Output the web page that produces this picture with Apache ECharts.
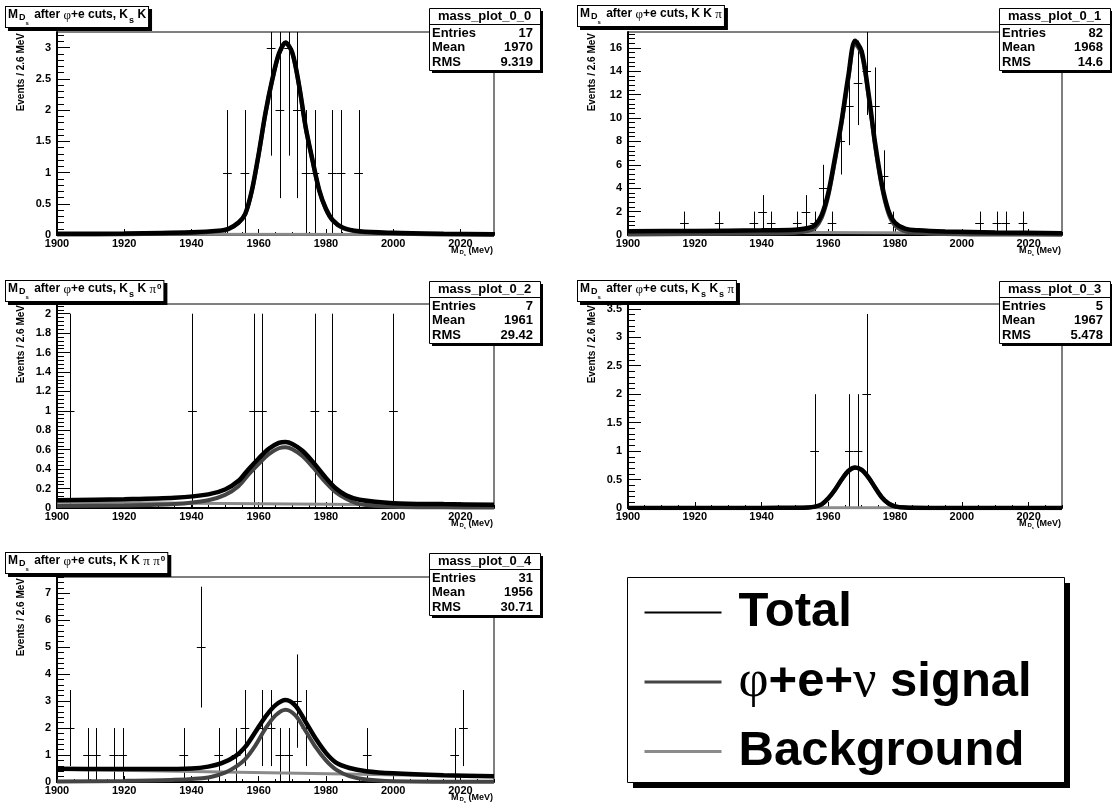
<!DOCTYPE html>
<html>
<head>
<meta charset="utf-8">
<script src="https://cdn.jsdelivr.net/npm/echarts@6/dist/echarts.min.js"></script>
<style>
html,body{margin:0;padding:0;background:#fff;}
#chart{width:1112px;height:803px;}
</style>
</head>
<body>
<div id="chart"></div>
<script>
// ---------------- DATA ----------------
const binWidth = 2.6;
const xTickLabels = [1900, 1920, 1940, 1960, 1980, 2000, 2020];

const p1Centers = [1950.7, 1955.9, 1963.7, 1966.3, 1968.9, 1971.5, 1974.1, 1976.7, 1981.9, 1984.5, 1989.7];
const p1Counts  = [1, 1, 3, 2, 3, 2, 1, 1, 1, 1, 1];
const p1Errors  = [1, 1, 1.73, 1.41, 1.73, 1.41, 1, 1, 1, 1, 1];

const p2Centers = [1916.9, 1927.3, 1937.7, 1940.3, 1942.9, 1950.7, 1953.3, 1955.9, 1958.5, 1961.1, 1963.7, 1966.3, 1968.9, 1971.5, 1974.1, 1976.7, 1979.3, 2005.3, 2010.5, 2013.1, 2018.3];
const p2Counts  = [1, 1, 1, 2, 1, 1, 2, 1, 4, 1, 8, 11, 13, 14, 11, 5, 1, 1, 1, 1, 1];
const p2Errors  = [1, 1, 1, 1.41, 1, 1, 1.41, 1, 2, 1, 2.83, 3.32, 3.61, 3.74, 3.32, 2.24, 1, 1, 1, 1, 1];

const p3Centers = [1903.9, 1940.3, 1958.5, 1961.1, 1976.7, 1981.9, 2000.1];
const p3Counts  = [1, 1, 1, 1, 1, 1, 1];
const p3Errors  = [1, 1, 1, 1, 1, 1, 1];

const p4Centers = [1955.9, 1966.3, 1968.9, 1971.5];
const p4Counts  = [1, 1, 1, 2];
const p4Errors  = [1, 1, 1, 1.41];

const p5Centers = [1903.9, 1909.1, 1911.7, 1916.9, 1919.5, 1937.7, 1942.9, 1948.1, 1953.3, 1955.9, 1961.1, 1963.7, 1966.3, 1968.9, 1971.5, 1974.1, 1992.3, 2018.3, 2020.9];
const p5Counts  = [2, 1, 1, 1, 1, 1, 5, 1, 1, 2, 2, 2, 1, 1, 3, 2, 1, 1, 2];
const p5Errors  = [1.41, 1, 1, 1, 1, 1, 2.24, 1, 1, 1.41, 1.41, 1.41, 1, 1, 1.73, 1.41, 1, 1, 1.41];

// fitted curves: [mass, events]
const p1Total  = [[1900,0.02],[1920,0.025],[1940,0.045],[1948,0.07],[1951,0.1],[1954,0.2],[1956,0.34],[1958,0.72],[1960,1.3],[1962,1.95],[1964,2.48],[1966,2.9],[1968,3.08],[1970,2.92],[1972,2.4],[1974,1.72],[1976,1.2],[1978,0.72],[1980,0.42],[1982,0.24],[1985,0.12],[1990,0.06],[2000,0.035],[2015,0.02],[2030,0.012]];
const p1Signal = [[1900,0.008],[1920,0.013],[1940,0.034],[1948,0.06],[1951,0.09],[1954,0.19],[1956,0.33],[1958,0.71],[1960,1.29],[1962,1.94],[1964,2.47],[1966,2.89],[1968,3.07],[1970,2.91],[1972,2.39],[1974,1.71],[1976,1.19],[1978,0.71],[1980,0.41],[1982,0.23],[1985,0.11],[1990,0.05],[2000,0.025],[2015,0.01],[2030,0.004]];
const p1Bg     = [[1900,0.012],[2030,0.008]];

const p2Total  = [[1900,0.32],[1920,0.35],[1940,0.4],[1950,0.45],[1954,0.6],[1956,0.85],[1958,1.7],[1960,3.6],[1962,6.6],[1964,9.8],[1966,13.6],[1968,16.6],[1970,15.7],[1972,12.2],[1974,7.9],[1976,4.4],[1978,2.1],[1980,1.05],[1983,0.55],[1987,0.4],[1995,0.3],[2010,0.22],[2030,0.15]];
const p2Signal = [[1900,0.04],[1920,0.08],[1940,0.13],[1950,0.19],[1954,0.35],[1956,0.6],[1958,1.45],[1960,3.35],[1962,6.35],[1964,9.55],[1966,13.35],[1968,16.35],[1970,15.45],[1972,11.95],[1974,7.65],[1976,4.15],[1978,1.85],[1980,0.8],[1983,0.31],[1987,0.17],[1995,0.08],[2010,0.04],[2030,0.03]];
const p2Bg     = [[1900,0.28],[2030,0.12]];

const p3Total  = [[1900,0.08],[1920,0.09],[1935,0.105],[1945,0.14],[1950,0.19],[1954,0.28],[1957,0.4],[1960,0.51],[1963,0.61],[1966,0.67],[1968,0.68],[1970,0.66],[1973,0.59],[1976,0.48],[1980,0.31],[1983,0.2],[1986,0.13],[1990,0.085],[2000,0.05],[2015,0.04],[2030,0.033]];
const p3Signal = [[1900,0.02],[1920,0.025],[1935,0.04],[1945,0.08],[1950,0.135],[1954,0.225],[1957,0.345],[1960,0.455],[1963,0.555],[1966,0.615],[1968,0.625],[1970,0.605],[1973,0.535],[1976,0.425],[1980,0.26],[1983,0.16],[1986,0.095],[1990,0.04],[2000,0.012],[2015,0.007],[2030,0.006]];
const p3Bg     = [[1900,0.06],[2030,0.025]];

const p4Total  = [[1900,0.001],[1940,0.002],[1950,0.004],[1954,0.01],[1956,0.025],[1958,0.065],[1960,0.17],[1962,0.32],[1964,0.5],[1966,0.65],[1968,0.71],[1970,0.67],[1972,0.54],[1974,0.36],[1976,0.19],[1978,0.08],[1980,0.028],[1983,0.008],[1990,0.002],[2030,0.001]];
const p4Signal = [[1900,0.0],[1940,0.001],[1950,0.003],[1954,0.009],[1956,0.024],[1958,0.064],[1960,0.169],[1962,0.319],[1964,0.499],[1966,0.649],[1968,0.709],[1970,0.669],[1972,0.539],[1974,0.359],[1976,0.189],[1978,0.079],[1980,0.027],[1983,0.007],[1990,0.001],[2030,0.0]];
const p4Bg     = [[1900,0.004],[2030,0.004]];

const p5Total  = [[1900,0.49],[1915,0.48],[1930,0.48],[1940,0.5],[1945,0.57],[1949,0.7],[1953,0.95],[1956,1.3],[1959,1.85],[1962,2.42],[1965,2.85],[1968,3.04],[1971,2.82],[1974,2.22],[1977,1.6],[1980,1.08],[1983,0.72],[1987,0.52],[1992,0.4],[2000,0.32],[2015,0.25],[2030,0.21]];
const p5Signal = [[1900,0.02],[1920,0.04],[1935,0.08],[1945,0.17],[1950,0.35],[1953,0.55],[1956,0.85],[1959,1.35],[1962,1.98],[1965,2.47],[1968,2.68],[1971,2.46],[1974,1.88],[1977,1.28],[1980,0.8],[1983,0.46],[1987,0.22],[1992,0.09],[2000,0.03],[2030,0.01]];
const p5Bg     = [[1900,0.47],[2030,0.2]];

const p1YTicks = [0, 0.5, 1, 1.5, 2, 2.5, 3];
const p2YTicks = [0, 2, 4, 6, 8, 10, 12, 14, 16];
const p3YTicks = [0, 0.2, 0.4, 0.6, 0.8, 1, 1.2, 1.4, 1.6, 1.8, 2];
const p4YTicks = [0, 0.5, 1, 1.5, 2, 2.5, 3, 3.5];
const p5YTicks = [0, 1, 2, 3, 4, 5, 6, 7];

const titleTexts = [
  '{m|M}{d|D}{ss|s}{t| after }{g|φ}{t|+e cuts, K}{k|s}{t| K}',
  '{m|M}{d|D}{ss|s}{t| after }{g|φ}{t|+e cuts, K K }{g|π}',
  '{m|M}{d|D}{ss|s}{t| after }{g|φ}{t|+e cuts, K}{k|s}{t| K }{g|π}{sup|0}',
  '{m|M}{d|D}{ss|s}{t| after }{g|φ}{t|+e cuts, K}{k|s}{t| K}{k|s}{t| }{g|π}',
  '{m|M}{d|D}{ss|s}{t| after }{g|φ}{t|+e cuts, K K }{g|π}{t| }{g|π}{sup|0}'
];
const statNames   = ['mass_plot_0_0', 'mass_plot_0_1', 'mass_plot_0_2', 'mass_plot_0_3', 'mass_plot_0_4'];
const statEntries = ['17', '82', '7', '5', '31'];
const statMeans   = ['1970', '1968', '1961', '1967', '1956'];
const statRMS     = ['9.319', '14.6', '29.42', '5.478', '30.71'];
const yTitle = 'Events / 2.6 MeV';
const legendNames = ['Total', 'φ+e+ν signal', 'Background'];

// ---------------- LAYOUT / STYLE ----------------
const FONT = "'Liberation Sans', Arial, Helvetica, sans-serif";
const SERIF = "'Liberation Serif', 'Times New Roman', serif";
const COLORS = {total: '#000000', signal: '#444444', bg: '#8a8a8a'};

const panels = [
  {left: 57,  top: 32,  width: 437, height: 203, ymax: 3.25,  minorStep: 0.1,  titleX: 6,   titleY: 7,   statX: 429, statY: 8,   yTicks: p1YTicks, c: p1Centers, n: p1Counts, e: p1Errors, tot: p1Total, sig: p1Signal, bg: p1Bg},
  {left: 628, top: 32,  width: 434, height: 203, ymax: 17.35, minorStep: 0.4,  titleX: 578, titleY: 6,   statX: 999, statY: 8,   yTicks: p2YTicks, c: p2Centers, n: p2Counts, e: p2Errors, tot: p2Total, sig: p2Signal, bg: p2Bg},
  {left: 57,  top: 304, width: 437, height: 204, ymax: 2.1,   minorStep: 0.04, titleX: 6,   titleY: 281, statX: 429, statY: 281, yTicks: p3YTicks, c: p3Centers, n: p3Counts, e: p3Errors, tot: p3Total, sig: p3Signal, bg: p3Bg},
  {left: 628, top: 304, width: 434, height: 204, ymax: 3.585, minorStep: 0.1,  titleX: 578, titleY: 281, statX: 999, statY: 281, yTicks: p4YTicks, c: p4Centers, n: p4Counts, e: p4Errors, tot: p4Total, sig: p4Signal, bg: p4Bg},
  {left: 57,  top: 577, width: 437, height: 205, ymax: 7.6,   minorStep: 0.2,  titleX: 6,   titleY: 553, statX: 429, statY: 553, yTicks: p5YTicks, c: p5Centers, n: p5Counts, e: p5Errors, tot: p5Total, sig: p5Signal, bg: p5Bg}
];

const xMinor = [];
for (let v = 1900; v <= 2030; v += 5) if (v % 20 !== 0) xMinor.push(v);
function minorTicks(max, step) {
  const out = [];
  for (let i = 0; i * step <= max + 1e-9; i++) out.push(+(i * step).toFixed(4));
  return out;
}

const grids = [], xAxes = [], yAxes = [], series = [], graphics = [];
const labelStyle = {color: '#000', fontSize: 11, fontWeight: 'bold', fontFamily: FONT};

panels.forEach((p, i) => {
  grids.push({left: p.left, top: p.top, width: p.width, height: p.height, show: true,
    borderColor: '#000', borderWidth: 1, backgroundColor: 'transparent'});
  xAxes.push({type: 'value', gridIndex: i, min: 1900, max: 2030, position: 'bottom',
    axisLine: {show: true, onZero: false, lineStyle: {color: '#000', width: 2}},
    axisTick: {show: true, inside: true, length: 6, customValues: xTickLabels, lineStyle: {color: '#000', width: 1}},
    axisLabel: Object.assign({show: true, customValues: xTickLabels, margin: 3, formatter: v => String(v)}, labelStyle),
    splitLine: {show: false}});
  xAxes.push({type: 'value', gridIndex: i, min: 1900, max: 2030, position: 'bottom',
    axisLine: {show: false}, axisLabel: {show: false}, splitLine: {show: false},
    axisTick: {show: true, inside: true, length: 3, customValues: xMinor, lineStyle: {color: '#000', width: 1}}});
  yAxes.push({type: 'value', gridIndex: i, min: 0, max: p.ymax, position: 'left',
    axisLine: {show: true, onZero: false, lineStyle: {color: '#000', width: 2}},
    axisTick: {show: true, inside: true, length: 13, customValues: p.yTicks, lineStyle: {color: '#000', width: 1}},
    axisLabel: Object.assign({show: true, customValues: p.yTicks, margin: 6, formatter: v => String(+v.toFixed(3))}, labelStyle),
    splitLine: {show: false}});
  yAxes.push({type: 'value', gridIndex: i, min: 0, max: p.ymax, position: 'left',
    axisLine: {show: false}, axisLabel: {show: false}, splitLine: {show: false},
    axisTick: {show: true, inside: true, length: 7, customValues: minorTicks(p.ymax, p.minorStep), lineStyle: {color: '#000', width: 1}}});

  const xi = 2 * i, yi = 2 * i;
  series.push({
    type: 'custom', name: 'data' + i, xAxisIndex: xi, yAxisIndex: yi, z: 2, clip: true, silent: true,
    data: p.c.map((c, k) => [c, p.n[k], p.e[k]]),
    encode: {x: 0, y: 1},
    renderItem: function (params, api) {
      const x = api.value(0), y = api.value(1), e = api.value(2);
      const top = params.coordSys.y;
      const lo = api.coord([x, Math.max(0, y - e)]);
      const hi = api.coord([x, y + e]);
      const l = api.coord([x - binWidth / 2, y]);
      const r = api.coord([x + binWidth / 2, y]);
      const cx = Math.round(lo[0]) + 0.5;
      const cy = Math.round(l[1]) + 0.5;
      return {type: 'group', children: [
        {type: 'line', shape: {x1: cx, y1: lo[1], x2: cx, y2: Math.max(top, hi[1])}, style: {stroke: '#000', lineWidth: 1}},
        {type: 'line', shape: {x1: l[0], y1: cy, x2: r[0], y2: cy}, style: {stroke: '#000', lineWidth: 1}}
      ]};
    }
  });
  const lineCommon = {type: 'line', xAxisIndex: xi, yAxisIndex: yi, symbol: 'none', showSymbol: false,
    smooth: 0.3, clip: true, silent: true, animation: false};
  series.push(Object.assign({}, lineCommon, {name: legendNames[2], data: p.bg, z: 3, color: COLORS.bg,
    lineStyle: {color: COLORS.bg, width: 3}}));
  series.push(Object.assign({}, lineCommon, {name: legendNames[1], data: p.sig, z: 4, color: COLORS.signal,
    lineStyle: {color: COLORS.signal, width: 4}}));
  series.push(Object.assign({}, lineCommon, {name: legendNames[0], data: p.tot, z: 5, color: COLORS.total,
    lineStyle: {color: COLORS.total, width: 4.5}}));

  // ---- title box (shadow + box) ----
  const titleRich = {
    m:  {fontSize: 12, fontWeight: 'bold', fontFamily: FONT, verticalAlign: 'top', padding: [0, 0, 0, 0]},
    t:  {fontSize: 12, fontWeight: 'bold', fontFamily: FONT, verticalAlign: 'top', padding: [0, 0, 0, 0]},
    d:  {fontSize: 9,  fontWeight: 'bold', fontFamily: FONT, verticalAlign: 'top', padding: [4, 0, 0, 1]},
    ss: {fontSize: 6,  fontWeight: 'bold', fontFamily: FONT, verticalAlign: 'top', padding: [11, 2, 0, 0]},
    k:  {fontSize: 9,  fontWeight: 'bold', fontFamily: FONT, verticalAlign: 'top', padding: [7, 0, 0, 1]},
    g:  {fontSize: 13, fontFamily: SERIF, verticalAlign: 'top', padding: [0, 0, 0, 0]},
    sup:{fontSize: 8,  fontWeight: 'bold', fontFamily: FONT, verticalAlign: 'top', padding: [0, 0, 0, 1]}
  };
  const shadowRich = {};
  Object.keys(titleRich).forEach(k => { shadowRich[k] = Object.assign({}, titleRich[k], {fill: '#000'}); });
  graphics.push({type: 'text', x: p.titleX + 3, y: p.titleY + 3, z: 100, silent: true,
    style: {text: titleTexts[i], rich: shadowRich, fill: '#000', backgroundColor: '#000',
      borderColor: '#000', borderWidth: 1, padding: [2, 2, 1, 2], align: 'left', verticalAlign: 'top'}});
  graphics.push({type: 'text', x: p.titleX, y: p.titleY, z: 101, silent: true,
    style: {text: titleTexts[i], rich: titleRich, fill: '#000', backgroundColor: '#fff',
      borderColor: '#000', borderWidth: 1, padding: [2, 2, 1, 2], align: 'left', verticalAlign: 'top'}});

  // ---- stats box ----
  const sx = p.statX, sy = p.statY, sw = 111, sh = 62;
  const sFont = {fontSize: 13, fontWeight: 'bold', fontFamily: FONT, fill: '#000'};
  graphics.push({type: 'rect', z: 100, silent: true, shape: {x: sx + 3, y: sy + 3, width: sw, height: sh}, style: {fill: '#000'}});
  graphics.push({type: 'rect', z: 101, silent: true, shape: {x: sx + 0.5, y: sy + 0.5, width: sw, height: sh}, style: {fill: '#fff', stroke: '#000', lineWidth: 1}});
  graphics.push({type: 'line', z: 102, silent: true, shape: {x1: sx, y1: sy + 16.5, x2: sx + sw, y2: sy + 16.5}, style: {stroke: '#000', lineWidth: 1}});
  graphics.push({type: 'text', z: 102, silent: true, x: sx + sw / 2, y: sy + 8.5, style: Object.assign({text: statNames[i], align: 'center', verticalAlign: 'middle'}, sFont)});
  [['Entries', statEntries[i], 25], ['Mean', statMeans[i], 39.5], ['RMS', statRMS[i], 54.5]].forEach(r => {
    graphics.push({type: 'text', z: 102, silent: true, x: sx + 3, y: sy + r[2], style: Object.assign({text: r[0], align: 'left', verticalAlign: 'middle'}, sFont)});
    graphics.push({type: 'text', z: 102, silent: true, x: sx + sw - 7, y: sy + r[2], style: Object.assign({text: r[1], align: 'right', verticalAlign: 'middle'}, sFont)});
  });

  // ---- axis titles ----
  graphics.push({type: 'text', z: 50, silent: true, x: p.left - 36, y: p.top + 1, rotation: Math.PI / 2,
    style: {text: yTitle, align: 'right', verticalAlign: 'middle', fontSize: 10, fontWeight: 'bold', fontFamily: FONT, fill: '#000'}});
  const axRich = {
    m:  {fontSize: 9, fontWeight: 'bold', fontFamily: FONT, verticalAlign: 'top', padding: [0, 0, 0, 0]},
    d:  {fontSize: 6, fontWeight: 'bold', fontFamily: FONT, verticalAlign: 'top', padding: [3, 0, 0, 1]},
    ss: {fontSize: 4, fontWeight: 'bold', fontFamily: FONT, verticalAlign: 'top', padding: [7, 0, 0, 0]},
    t:  {fontSize: 9, fontWeight: 'bold', fontFamily: FONT, verticalAlign: 'top', padding: [0, 0, 0, 0]}
  };
  graphics.push({type: 'text', z: 50, silent: true, x: p.left + p.width - 1, y: p.top + p.height + 11,
    style: {text: '{m|M}{d|D}{ss|s}{t| (MeV)}', rich: axRich, fill: '#000', align: 'right', verticalAlign: 'top'}});
});

// ---- legend box ----
graphics.push({type: 'rect', z: 150, silent: true, shape: {x: 633, y: 583, width: 437, height: 205}, style: {fill: '#000'}});
graphics.push({type: 'rect', z: 151, silent: true, shape: {x: 627.5, y: 577.5, width: 437, height: 205}, style: {fill: '#fff', stroke: '#000', lineWidth: 1}});

const option = {
  animation: false,
  backgroundColor: '#fff',
  grid: grids,
  xAxis: xAxes,
  yAxis: yAxes,
  series: series,
  graphic: {elements: graphics},
  legend: {
    show: true, orient: 'vertical', left: 643, top: 588, padding: 0, z: 200,
    itemWidth: 77, itemHeight: 14, itemGap: 19, selectedMode: false,
    itemStyle: {opacity: 0, borderWidth: 0},
    data: [
      {name: legendNames[0], lineStyle: {width: 2}, itemStyle: {opacity: 0}},
      {name: legendNames[1], lineStyle: {width: 3}, itemStyle: {opacity: 0}},
      {name: legendNames[2], lineStyle: {width: 3}, itemStyle: {opacity: 0}}
    ],
    formatter: function (name) {
      if (name === legendNames[1]) return '{g|φ}{b|+e+}{g|ν}{b| signal}';
      return '{b|' + name + '}';
    },
    textStyle: {color: '#000', fontSize: 49, fontWeight: 'bold', fontFamily: FONT, padding: [0, 0, 0, 12],
      rich: {
        b: {fontSize: 49, fontWeight: 'bold', fontFamily: FONT, color: '#000', lineHeight: 49},
        g: {fontSize: 52, fontWeight: 'normal', fontFamily: SERIF, color: '#000', lineHeight: 49}
      }}
  }
};

const chart = echarts.init(document.getElementById('chart'), null, {renderer: 'canvas'});
chart.setOption(option);
</script>
</body>
</html>
